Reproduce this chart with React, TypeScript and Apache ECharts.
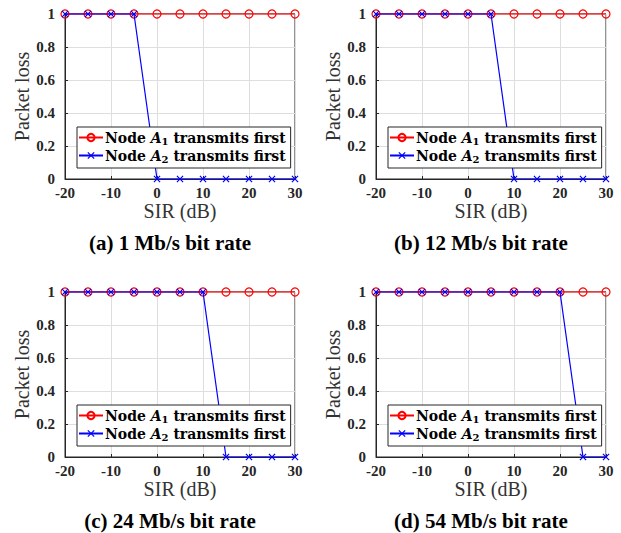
import React, { useEffect, useRef } from "react";
import * as echarts from "echarts";

const sirValues = [-20, -15, -10, -5, 0, 5, 10, 15, 20, 25, 30];
const nodeA1First = [
  [1, 1, 1, 1, 1, 1, 1, 1, 1, 1, 1],
  [1, 1, 1, 1, 1, 1, 1, 1, 1, 1, 1],
  [1, 1, 1, 1, 1, 1, 1, 1, 1, 1, 1],
  [1, 1, 1, 1, 1, 1, 1, 1, 1, 1, 1],
];
const nodeA2First = [
  [1, 1, 1, 1, 0, 0, 0, 0, 0, 0, 0],
  [1, 1, 1, 1, 1, 1, 0, 0, 0, 0, 0],
  [1, 1, 1, 1, 1, 1, 1, 0, 0, 0, 0],
  [1, 1, 1, 1, 1, 1, 1, 1, 1, 0, 0],
];
const captions = [
  "(a) 1 Mb/s bit rate",
  "(b) 12 Mb/s bit rate",
  "(c) 24 Mb/s bit rate",
  "(d) 54 Mb/s bit rate",
];
const xTicks = { min: -20, max: 30, interval: 10 };
const yTicks = { min: 0, max: 1, interval: 0.2 };

const SERIF = "Liberation Serif";
const LEG = "DejaVu Serif";
const AX = "#262626";

const panels = [
  { left: 65, top: 14 },
  { left: 376, top: 14 },
  { left: 65, top: 292 },
  { left: 376, top: 292 },
];
const W = 230;
const H = 165;

const crossPath =
  "path://M0,1.2L1.2,0L5,3.8L8.8,0L10,1.2L6.2,5L10,8.8L8.8,10L5,6.2L1.2,10L0,8.8L3.8,5Z";

export default function App() {
  const ref = useRef<HTMLDivElement>(null);
  useEffect(() => {
    if (!ref.current) return;
    const chart = echarts.init(ref.current, null, { renderer: "svg" });
    const grids: any[] = [];
    const xAxes: any[] = [];
    const yAxes: any[] = [];
    const series: any[] = [];
    const legends: any[] = [];
    const graphics: any[] = [];
    const richT = { fontFamily: LEG, fontWeight: "bold", fontSize: 14, color: "#000", lineHeight: 17 };
    panels.forEach((p, i) => {
      grids.push({
        left: p.left,
        top: p.top,
        width: W,
        height: H,
        show: true,
        borderColor: AX,
        borderWidth: 1,
        backgroundColor: "transparent",
      });
      xAxes.push({
        type: "value",
        gridIndex: i,
        min: xTicks.min,
        max: xTicks.max,
        interval: xTicks.interval,
        name: "SIR (dB)",
        nameLocation: "middle",
        nameGap: 18,
        nameTextStyle: { fontFamily: SERIF, fontSize: 20, color: "#333", verticalAlign: "top" },
        axisLine: { show: true, onZero: false, lineStyle: { color: AX, width: 1 } },
        axisTick: { show: true, inside: true, length: 3, lineStyle: { color: AX } },
        axisLabel: { fontFamily: SERIF, fontWeight: "bold", fontSize: 15, color: AX, margin: 6 },
        splitLine: { show: true, lineStyle: { color: "#dedede", width: 1 } },
      });
      yAxes.push({
        type: "value",
        gridIndex: i,
        min: yTicks.min,
        max: yTicks.max,
        interval: yTicks.interval,
        name: "Packet loss",
        nameLocation: "middle",
        nameGap: 33,
        nameRotate: 90,
        nameTextStyle: { fontFamily: SERIF, fontSize: 20, color: "#333" },
        axisLine: { show: true, onZero: false, lineStyle: { color: AX, width: 1 } },
        axisTick: { show: true, inside: true, length: 3, lineStyle: { color: AX } },
        axisLabel: {
          fontFamily: SERIF,
          fontWeight: "bold",
          fontSize: 15,
          color: AX,
          margin: 10,
          formatter: (v: number) => String(Math.round(v * 10) / 10),
        },
        splitLine: { show: true, lineStyle: { color: "#dedede", width: 1 } },
      });
      series.push({
        name: "A1",
        type: "line",
        xAxisIndex: i,
        yAxisIndex: i,
        data: sirValues.map((x, k) => [x, nodeA1First[i][k]]),
        symbol: "circle",
        symbolSize: 8,
        showSymbol: true,
        lineStyle: { color: "#ff0000", width: 1.2 },
        itemStyle: { color: "rgba(0,0,0,0)", borderColor: "#ff0000", borderWidth: 1.2 },
        clip: false,
        z: 2,
      });
      series.push({
        name: "A2",
        type: "line",
        xAxisIndex: i,
        yAxisIndex: i,
        data: sirValues.map((x, k) => [x, nodeA2First[i][k]]),
        symbol: crossPath,
        symbolSize: 7,
        showSymbol: true,
        lineStyle: { color: "#0000ff", width: 1.2 },
        itemStyle: { color: "#0000ff", borderWidth: 0 },
        clip: false,
        z: 3,
      });
      legends.push({
        show: true,
        orient: "vertical",
        left: p.left + 12,
        top: p.top + 113,
        data: ["A1", "A2"],
        selectedMode: false,
        backgroundColor: "#fff",
        borderColor: AX,
        borderWidth: 1,
        borderRadius: 0,
        padding: [2, 5, 4, 1],
        itemGap: 1,
        itemWidth: 24,
        itemHeight: 9,
        formatter: (name: string) =>
          name === "A1"
            ? "{t|Node }{i|A}{s|1}{t| transmits first}"
            : "{t|Node }{i|A}{s|2}{t| transmits first}",
        textStyle: {
          fontFamily: LEG,
          fontWeight: "bold",
          fontSize: 14,
          color: "#000",
          padding: [0, 0, 0, -3],
          rich: {
            t: richT,
            i: { ...richT, fontStyle: "italic" },
            s: { fontFamily: LEG, fontWeight: "bold", fontSize: 10, color: "#000", lineHeight: 10, padding: [7, 0, 0, 0] },
          },
        },
        z: 10,
      });
      graphics.push({
        type: "text",
        x: p.left + W / 2 - 10,
        y: p.top + 229,
        style: {
          text: captions[i],
          fontFamily: SERIF,
          fontWeight: "bold",
          fontSize: 21,
          fill: "#000",
          align: "center",
          verticalAlign: "middle",
        },
      });
    });
    chart.setOption({
      animation: false,
      backgroundColor: "#fff",
      textStyle: { fontFamily: SERIF },
      grid: grids,
      xAxis: xAxes,
      yAxis: yAxes,
      series,
      legend: legends,
      graphic: graphics,
    });
    return () => chart.dispose();
  }, []);
  return (
    <div
      ref={ref}
      style={{ position: "absolute", left: 0, top: 0, width: 621, height: 533 }}
    />
  );
}
